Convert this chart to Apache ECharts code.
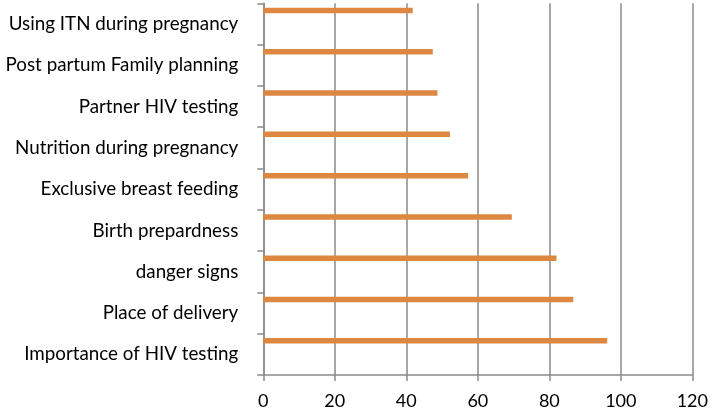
<!DOCTYPE html>
<html>
<head>
<meta charset="utf-8">
<script src="https://cdn.jsdelivr.net/npm/echarts@6/dist/echarts.min.js"></script>
<style>html,body{margin:0;padding:0;background:#fff}#c{width:711px;height:410px}</style>
</head>
<body>
<div id="c"></div>
<script>
const categories = ["Importance of HIV testing","Place of delivery","danger signs","Birth prepardness","Exclusive breast feeding","Nutrition during pregnancy","Partner HIV testing","Post partum Family planning","Using ITN during pregnancy"];
const values = [96.2, 86.7, 82.0, 69.5, 57.3, 52.2, 48.7, 47.4, 41.8];
const xTicks = [0, 20, 40, 60, 80, 100, 120];

const chart = echarts.init(document.getElementById('c'), null, {renderer: 'canvas'});
const font = 'Lato';
const axisColor = '#8a8a8a';
chart.setOption({
  animation: false,
  grid: {left: 263.3, right: 17.7, top: 3.3, bottom: 33.3, containLabel: false},
  xAxis: {
    type: 'value', min: xTicks[0], max: xTicks[xTicks.length-1], interval: 20,
    axisLine: {show: true, lineStyle: {color: axisColor, width: 1.5}},
    axisTick: {show: true, length: 6, lineStyle: {color: axisColor, width: 1.5}},
    splitLine: {show: true, lineStyle: {color: axisColor, width: 1.5}},
    axisLabel: {color: '#000', fontFamily: font, fontSize: 18, margin: 17}
  },
  yAxis: {
    type: 'category', data: categories,
    axisLine: {show: true, lineStyle: {color: axisColor, width: 1.5}},
    axisTick: {show: true, length: 6, lineStyle: {color: axisColor, width: 1.5}},
    axisLabel: {color: '#000', fontFamily: font, fontSize: 18.8, margin: 25}
  },
  series: [
    {type: 'bar', data: values, barWidth: 5.5, barGap: '0%', itemStyle: {color: '#DE8741'}, silent: true},
    {type: 'bar', data: values, barWidth: 27, itemStyle: {color: 'rgba(0,0,0,0)'}, silent: true}
  ]
});
</script>
</body>
</html>
